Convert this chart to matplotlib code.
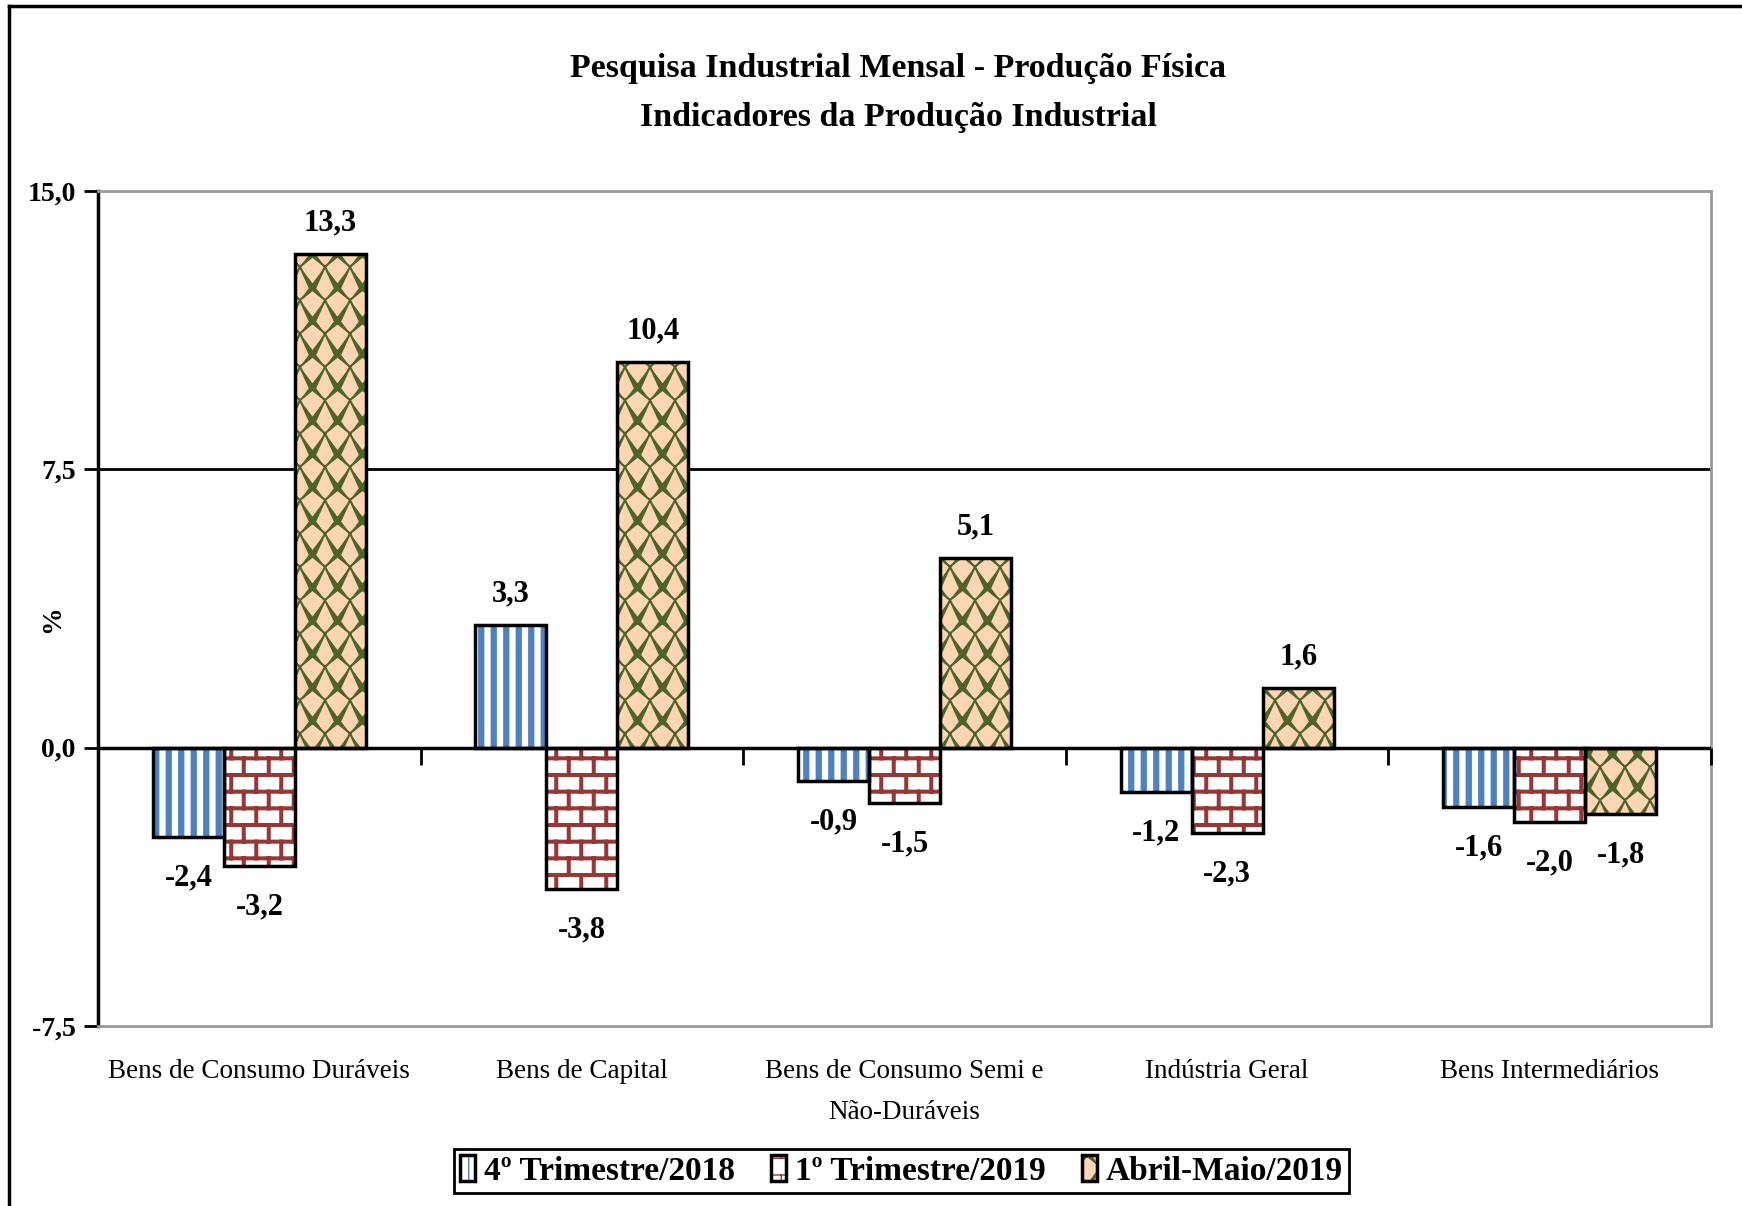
import numpy as np
import matplotlib
matplotlib.use('Agg')
import matplotlib.pyplot as plt
from matplotlib import hatch as mhatch
from matplotlib.path import Path
from matplotlib.lines import Line2D
from matplotlib.ticker import FuncFormatter

categorias = ['Bens de Consumo Duráveis', 'Bens de Capital',
              'Bens de Consumo Semi e\nNão-Duráveis', 'Indústria Geral',
              'Bens Intermediários']
series = ['4º Trimestre/2018', '1º Trimestre/2019', 'Abril-Maio/2019']
tri4_2018 = [-2.4, 3.3, -0.9, -1.2, -1.6]
tri1_2019 = [-3.2, -3.8, -1.5, -2.3, -2.0]
abr_mai_2019 = [13.3, 10.4, 5.1, 1.6, -1.8]
yticks = [-7.5, 0.0, 7.5, 15.0]


# padroes de preenchimento estilo excel (hachuras proprias)
def _segs_to(vertices, codes, segs):
    i = 0
    for s in segs:
        for k, p in enumerate(s):
            vertices[i] = p
            codes[i] = Path.MOVETO if k == 0 else Path.LINETO
            i += 1


class Listras(mhatch.HatchPatternBase):
    # 'o' -> listras verticais
    def __init__(self, hatch, density):
        n = hatch.count('o') * 8
        self.segs = [((x, 0.0), (x, 1.0)) for x in (np.arange(n) + 0.5) / n]
        self.num_vertices = 2 * len(self.segs)

    def set_vertices_and_codes(self, vertices, codes):
        _segs_to(vertices, codes, self.segs)


class Tijolos(mhatch.HatchPatternBase):
    # 'O' -> tijolos
    def __init__(self, hatch, density):
        r = hatch.count('O') * 6
        c = 4
        segs = []
        for i in range(r):
            y = (i + 0.5) / r
            segs.append(((0.0, y), (1.0, y)))
            off = 0.25 if i % 2 == 0 else 0.75
            y2 = min((i + 1.5) / r, 1.0)
            for j in range(c):
                x = (j + off) / c
                segs.append(((x, y), (x, y2)))
                if i == r - 1:
                    segs.append(((x, 0.0), (x, 0.5 / r)))
        self.segs = segs if r else []
        self.num_vertices = 2 * len(self.segs)

    def set_vertices_and_codes(self, vertices, codes):
        _segs_to(vertices, codes, self.segs)


class Ondas(mhatch.HatchPatternBase):
    # '*' -> trelica ondulada
    def __init__(self, hatch, density):
        nx, ny = (4, 3) if '*' in hatch else (0, 0)
        w, h = 1.0 / max(nx, 1), 1.0 / max(ny, 1)
        segs = []
        for i in range(nx):
            for j in range(ny):
                x0, y0 = i * w, j * h
                segs.append(((x0, y0), (x0 + 0.62 * w, y0 + 0.38 * h), (x0 + w, y0 + h)))
                segs.append(((x0, y0 + h), (x0 + 0.38 * w, y0 + 0.38 * h), (x0 + w, y0)))
        self.segs = segs
        self.num_vertices = 3 * len(segs)

    def set_vertices_and_codes(self, vertices, codes):
        _segs_to(vertices, codes, self.segs)


mhatch._hatch_types[:] = [t for t in mhatch._hatch_types
                          if t not in (mhatch.SmallCircles, mhatch.LargeCircles, mhatch.Stars)]
mhatch._hatch_types += [Listras, Tijolos, Ondas]

plt.rcParams['font.family'] = ['Liberation Serif', 'DejaVu Serif']

estilos = [('o', 'white', '#4F81BD', 4.5),
           ('O', 'white', '#953735', 2.9),
           ('*', '#FCD5B5', '#4F6228', 1.5)]
valores = [tri4_2018, tri1_2019, abr_mai_2019]

fig = plt.figure(figsize=(17.42, 12.06), dpi=100)
ax = fig.add_axes([0.0563, 0.1493, 0.9259, 0.6924])

x = np.arange(len(categorias))
w = 0.22
handles = []
for k, (vals, (h, fc, hc, hlw)) in enumerate(zip(valores, estilos)):
    pos = x + (k - 1) * w
    with plt.rc_context({'hatch.linewidth': hlw}):
        b1 = ax.bar(pos, vals, w, color=fc, edgecolor=hc, linewidth=0, hatch=h, zorder=3)
    for p in b1:
        if hasattr(p, 'set_hatch_linewidth'):
            p.set_hatch_linewidth(hlw)
    b2 = ax.bar(pos, vals, w, fill=False, edgecolor='black', linewidth=2.5, zorder=4)
    handles.append((b1, b2))
    for xi, v in zip(pos, vals):
        ax.annotate(f'{v:.1f}'.replace('.', ','), (xi, v),
                    xytext=(0, 12 if v > 0 else -19), textcoords='offset points',
                    ha='center', va='bottom' if v > 0 else 'top',
                    fontsize=22, fontweight='bold')

ax.set_xlim(-0.5, len(categorias) - 0.5)
ax.set_ylim(yticks[0], yticks[-1])
ax.set_yticks(yticks)
ax.yaxis.set_major_formatter(FuncFormatter(lambda v, p: f'{v:.1f}'.replace('.', ',')))
ax.tick_params(axis='y', length=10, width=2, labelsize=20, pad=6)
for t in ax.get_yticklabels():
    t.set_fontweight('bold')
ax.set_xticks(x)
ax.set_xticklabels(categorias, fontsize=19.5)
ax.tick_params(axis='x', length=0, pad=24)
for t in ax.get_xticklabels():
    t.set_linespacing(1.85)

ax.axhline(7.5, color='black', lw=2, zorder=1)
ax.axhline(0, color='black', lw=2.5, zorder=5)
ax.plot(np.arange(len(categorias)) + 0.5, np.zeros(len(categorias)), ls='',
        marker=3, ms=12, mew=2, color='black', zorder=5, clip_on=False)
for s in ['top', 'right', 'bottom']:
    ax.spines[s].set_color('#999999')
    ax.spines[s].set_linewidth(2)
ax.spines['left'].set_linewidth(2.5)

fig.text(0.5155, 0.9225, 'Pesquisa Industrial Mensal - Produção Física\nIndicadores da Produção Industrial',
         ha='center', va='center', fontsize=24.5, fontweight='bold', linespacing=1.75)
fig.text(0.030, 0.487, '%', rotation=90, ha='center', va='center', fontsize=20, fontweight='bold')

leg = fig.legend(handles, series, loc='center', bbox_to_anchor=(0.5175, 0.029), ncol=3,
                 fancybox=False, edgecolor='black', framealpha=1,
                 prop={'size': 24, 'weight': 'bold'},
                 handlelength=0.45, handleheight=0.8, handletextpad=0.25,
                 columnspacing=1.1, borderpad=0.2)
leg.get_frame().set_linewidth(2)

# moldura externa (apenas topo e esquerda aparecem)
fig.add_artist(Line2D([0.0052, 1.0], [0.9953, 0.9953], color='black', lw=2.5))
fig.add_artist(Line2D([0.0052, 0.0052], [0.0, 0.9953], color='black', lw=2.5))

fig.savefig('out.png', dpi=100)
